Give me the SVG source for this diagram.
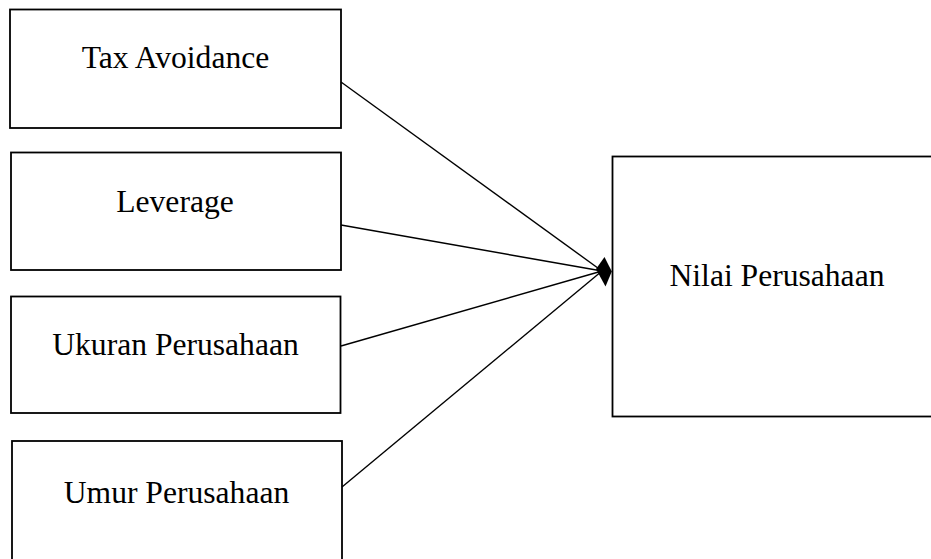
<svg xmlns="http://www.w3.org/2000/svg" width="931" height="559" viewBox="0 0 931 559">
<style>
.box{fill:#fff;stroke:#000;stroke-width:1.8}
.lbl{font-family:"Liberation Serif","Times New Roman",serif;font-size:31.6px;fill:#000;text-anchor:middle}
.conn{stroke:#000;stroke-width:1.4;fill:none}
</style>
<rect width="931" height="559" fill="#fff"/>
<g id="tax-avoidance">
<rect class="box" x="10" y="9.5" width="331" height="118.5"/>
<text class="lbl" x="175.5" y="68">Tax Avoidance</text>
</g>
<g id="leverage">
<rect class="box" x="11" y="152.5" width="330" height="117.5"/>
<text class="lbl" x="175" y="211.5">Leverage</text>
</g>
<g id="ukuran-perusahaan">
<rect class="box" x="11" y="296.5" width="329.5" height="116.5"/>
<text class="lbl" x="175.5" y="355">Ukuran Perusahaan</text>
</g>
<g id="umur-perusahaan">
<rect class="box" x="12" y="441" width="330" height="130"/>
<text class="lbl" x="176.5" y="502.5">Umur Perusahaan</text>
</g>
<g id="nilai-perusahaan">
<rect class="box" x="612.5" y="156.5" width="330" height="260"/>
<text class="lbl" x="777" y="285.5">Nilai Perusahaan</text>
</g>
<g id="connectors">
<line class="conn" x1="341" y1="82" x2="602" y2="271"/>
<line class="conn" x1="341" y1="225" x2="602" y2="271"/>
<line class="conn" x1="341" y1="346" x2="602" y2="271"/>
<line class="conn" x1="342" y1="487" x2="602" y2="271"/>
<polygon points="604.5,257 611.8,271.5 605.5,286.5 596,269" fill="#000"/>
</g>
</svg>
